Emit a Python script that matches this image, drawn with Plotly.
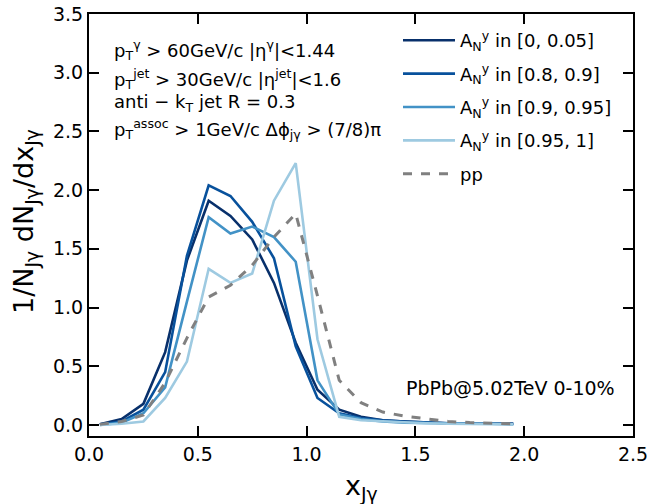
import plotly.graph_objects as go

x_bins = [0.05, 0.15, 0.25, 0.35, 0.45, 0.55, 0.65, 0.75, 0.85, 0.95,
          1.05, 1.15, 1.25, 1.35, 1.45, 1.55, 1.65, 1.75, 1.85, 1.95]

a_0_005 = [0.005, 0.05, 0.18, 0.62, 1.40, 1.91, 1.78, 1.58, 1.21, 0.70,
           0.30, 0.13, 0.07, 0.04, 0.03, 0.02, 0.015, 0.01, 0.01, 0.01]
a_08_09 = [0.005, 0.03, 0.13, 0.45, 1.44, 2.04, 1.95, 1.73, 1.42, 0.67,
           0.23, 0.10, 0.06, 0.04, 0.03, 0.02, 0.015, 0.01, 0.01, 0.01]
a_09_095 = [0.0, 0.02, 0.10, 0.32, 1.05, 1.77, 1.63, 1.69, 1.60, 1.39,
            0.38, 0.09, 0.05, 0.03, 0.02, 0.015, 0.01, 0.01, 0.01, 0.005]
a_095_1 = [0.0, 0.01, 0.03, 0.23, 0.54, 1.33, 1.21, 1.29, 1.91, 2.23,
           0.73, 0.07, 0.04, 0.03, 0.02, 0.015, 0.01, 0.01, 0.01, 0.005]
pp = [0.005, 0.03, 0.085, 0.36, 0.74, 1.09, 1.19, 1.36, 1.60, 1.80,
      1.10, 0.38, 0.19, 0.11, 0.075, 0.05, 0.03, 0.02, 0.015, 0.01]

series_names = ["A<sub>N</sub><sup>y</sup> in [0, 0.05]",
                "A<sub>N</sub><sup>y</sup> in [0.8, 0.9]",
                "A<sub>N</sub><sup>y</sup> in [0.9, 0.95]",
                "A<sub>N</sub><sup>y</sup> in [0.95, 1]",
                "pp"]
series_vals = [a_0_005, a_08_09, a_09_095, a_095_1, pp]
colors = ["#08306b", "#08519c", "#4292c6", "#9ecae1", "#808080"]
dashes = ["solid", "solid", "solid", "solid", "dash"]

x_ticks = [0.0, 0.5, 1.0, 1.5, 2.0, 2.5]
y_ticks = [0.0, 0.5, 1.0, 1.5, 2.0, 2.5, 3.0, 3.5]

FONT = "DejaVu Sans"

fig = go.Figure()
for i, (name, vals, c, d) in enumerate(zip(series_names, series_vals, colors, dashes)):
    fig.add_trace(go.Scatter(
        x=x_bins, y=vals, mode="lines", name=name,
        legendgroup=f"g{i}",
        line=dict(color=c, width=3 if d == "dash" else 2.6, dash=d)))

axis_common = dict(
    showline=True, linecolor="black", linewidth=2, mirror="allticks",
    ticks="inside", ticklen=10, tickwidth=1.5, tickcolor="black",
    showgrid=False, zeroline=False, ticklabeloverflow="allow",
    automargin=False,
    tickfont=dict(family=FONT, size=19, color="black"),
)

fig.update_layout(
    width=647, height=504,
    margin=dict(l=89, r=14, t=14, b=68),
    paper_bgcolor="white", plot_bgcolor="white",
    font=dict(family=FONT, size=19, color="black"),
    xaxis=dict(range=[0, 2.5], tickvals=x_ticks,
               ticktext=[f"{v:.1f}" for v in x_ticks], **axis_common),
    yaxis=dict(range=[-0.094, 3.5], tickvals=y_ticks,
               ticktext=[f"{v:.1f}" for v in y_ticks], **axis_common),
    legend=dict(x=(398 - 89) / 544, y=0.981, xanchor="left", yanchor="top",
                bgcolor="rgba(0,0,0,0)", font=dict(family=FONT, size=18),
                tracegroupgap=7, itemwidth=52),
    showlegend=True,
)

ann_lines = [
    "p<sub>T</sub><sup>γ</sup> > 60GeV/c |η<sup>γ</sup>|<1.44",
    "p<sub>T</sub><sup>jet</sup> > 30GeV/c |η<sup>jet</sup>|<1.6",
    "anti − k<sub>T</sub> jet R = 0.3",
    "p<sub>T</sub><sup>assoc</sup> > 1GeV/c Δϕ<sub>jγ</sub> > (7/8)π",
]
ann_py = [50, 79, 103, 129]
for t, py in zip(ann_lines, ann_py):
    fig.add_annotation(text=t, xref="paper", yref="paper",
                       x=(112 - 89) / 544, y=(436 - py) / 422,
                       xanchor="left", yanchor="middle", showarrow=False,
                       font=dict(family=FONT, size=18, color="black"))

fig.add_annotation(text="PbPb@5.02TeV 0-10%", xref="paper", yref="paper",
                   x=(404 - 89) / 544, y=(436 - 388) / 422,
                   xanchor="left", yanchor="middle", showarrow=False,
                   font=dict(family=FONT, size=19, color="black"))

fig.add_annotation(text="x<sub>Jγ</sub>", xref="paper", yref="paper",
                   x=0.5, y=(436 - 487) / 422, xanchor="center", yanchor="middle",
                   showarrow=False, font=dict(family=FONT, size=27, color="black"))
fig.add_annotation(text="1/N<sub>Jγ</sub> dN<sub>Jγ</sub>/dx<sub>Jγ</sub>",
                   xref="paper", yref="paper", textangle=-90,
                   x=(25 - 89) / 544, y=(436 - 222) / 422,
                   xanchor="center", yanchor="middle",
                   showarrow=False, font=dict(family=FONT, size=27, color="black"))

fig.write_html("out.html")
